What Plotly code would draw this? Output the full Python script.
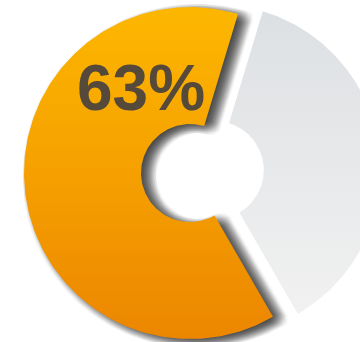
import numpy as np
import plotly.graph_objects as go

# Donut data: share shown in orange, remainder in grey
segments = ["Done", "Remaining"]
values = [63, 37]
label_text = f"{values[0]}%"

# Geometry (plot units = pixels, y axis pointing down)
CX, CY = 190.0, 173.0
R_OUT, R_IN = 166.0, 49.0
START_ANGLE = 150.0          # clockwise from 12 o'clock, where the first slice begins
PULL = [0.0, 25.0]           # explode distance of each slice

ORANGE = [[0.0, "#FDB700"], [0.5, "#F5A000"], [1.0, "#EC8600"]]
GREY = [[0.0, "#DDE0E3"], [1.0, "#F1F1F1"]]
TEXT_COLOR = "#55493A"


def wedge(cx, cy, a0, sweep, n=240):
    a = np.radians(np.linspace(a0, a0 + sweep, n))
    xo = cx + R_OUT * np.sin(a)
    yo = cy - R_OUT * np.cos(a)
    xi = cx + R_IN * np.sin(a[::-1])
    yi = cy - R_IN * np.cos(a[::-1])
    x = np.concatenate([xo, xi, xo[:1]])
    y = np.concatenate([yo, yi, yo[:1]])
    return x, y


total = float(sum(values))
sweeps = [360.0 * v / total for v in values]
starts = [START_ANGLE, START_ANGLE + sweeps[0]]

shapes = []
for s, a0, sw, p in zip(segments, starts, sweeps, PULL):
    mid = np.radians(a0 + sw / 2)
    cx = CX + p * np.sin(mid)
    cy = CY - p * np.cos(mid)
    shapes.append(wedge(cx, cy, a0, sw))

fig = go.Figure()

# soft drop shadow of the orange slice: stacked translucent offset copies
ox, oy = shapes[0]
offsets = []
for dx in range(-3, 19, 2):
    for dy in range(-5, 12, 2):
        if ((dx - 7) / 9.5) ** 2 + ((dy - 3) / 7.5) ** 2 <= 1.0:
            offsets.append((dx, dy))
alpha = 1 - 0.2 ** (1.0 / len(offsets))
for dx, dy in offsets:
    fig.add_trace(go.Scatter(
        x=ox + dx, y=oy + dy, mode="lines", fill="toself",
        fillcolor=f"rgba(40,40,40,{alpha:.4f})", line=dict(width=0),
        hoverinfo="skip", showlegend=False))

# grey slice (pulled out)
gx, gy = shapes[1]
fig.add_trace(go.Scatter(
    x=gx, y=gy, mode="lines", fill="toself", name=segments[1],
    line=dict(width=0),
    fillgradient=dict(type="vertical", colorscale=GREY,
                      start=float(gy.min()), stop=float(gy.max())),
    hoverinfo="skip", showlegend=False))

# orange slice
fig.add_trace(go.Scatter(
    x=ox, y=oy, mode="lines", fill="toself", name=segments[0],
    line=dict(width=0),
    fillgradient=dict(type="vertical", colorscale=ORANGE,
                      start=float(oy.min()), stop=float(oy.max())),
    hoverinfo="skip", showlegend=False))

fig.add_annotation(
    x=140.5, y=88, xref="x", yref="y", text=label_text, showarrow=False,
    font=dict(family="Liberation Sans, Arial, sans-serif", size=64,
              color=TEXT_COLOR, weight="bold"),
    xanchor="center", yanchor="middle")

fig.update_layout(
    width=360, height=342, margin=dict(l=0, r=0, t=0, b=0),
    paper_bgcolor="white", plot_bgcolor="white",
    xaxis=dict(range=[0, 360], visible=False, fixedrange=True),
    yaxis=dict(range=[342, 0], visible=False, fixedrange=True),
)

fig.write_html("out.html")
